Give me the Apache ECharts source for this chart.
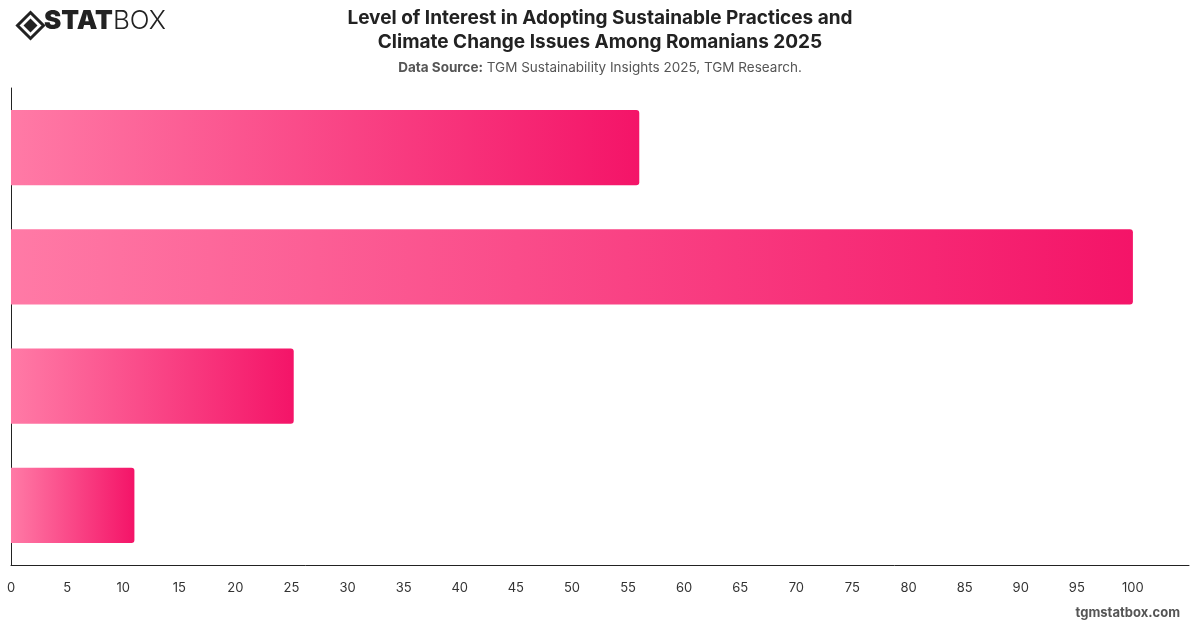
<html>

<head>
    <meta charset="utf-8">
    <script src="https://cdn.jsdelivr.net/npm/echarts@6/dist/echarts.min.js"></script>
    <style>
        body { margin: 0; background: #fff; }
    </style>
</head>

<body>
    <div id="main" style="width:1200px; height:628px"></div>
</body>
<script type="text/javascript">
    // data (top to bottom)
    var categories = ['Item 1', 'Item 2', 'Item 3', 'Item 4'];
    var values = [56, 100, 25.2, 11];

    var myChart = echarts.init(document.getElementById("main"));

    var barColor = new echarts.graphic.LinearGradient(0, 0, 1, 0, [
        { offset: 0, color: '#ff7aa6' },
        { offset: 1, color: '#f41468' }
    ]);

    var option = {
        animation: false,
        textStyle: { fontFamily: 'Inter, "Noto Sans", sans-serif' },
        title: {
            text: 'Level of Interest in Adopting Sustainable Practices and\nClimate Change Issues Among Romanians 2025',
            subtext: '{b|Data Source:} TGM Sustainability Insights 2025, TGM Research.',
            left: 'center',
            top: 1,
            itemGap: 7,
            textStyle: {
                fontSize: 19,
                fontWeight: 'bold',
                color: '#222',
                lineHeight: 24
            },
            subtextStyle: {
                fontSize: 13.5,
                color: '#555',
                rich: {
                    b: { fontSize: 13.5, fontWeight: 'bold', color: '#555' }
                }
            }
        },
        grid: {
            left: 11,
            right: 11,
            top: 88,
            bottom: 63,
            containLabel: false
        },
        xAxis: {
            type: 'value',
            min: 0,
            max: 105,
            interval: 5,
            axisLine: { show: true, lineStyle: { color: '#222', width: 1 } },
            axisTick: { show: false },
            splitLine: { show: false },
            axisLabel: {
                color: '#333',
                fontSize: 13,
                margin: 17,
                showMaxLabel: false
            }
        },
        yAxis: {
            type: 'category',
            data: categories,
            inverse: true,
            axisLine: { show: true, lineStyle: { color: '#222', width: 1 } },
            axisTick: { show: false },
            axisLabel: { show: false }
        },
        series: [{
            name: 'Interest',
            type: 'bar',
            data: values,
            barWidth: '63%',
            itemStyle: {
                color: barColor,
                borderRadius: [0, 3, 3, 0]
            }
        }],
        graphic: [
            {
                type: 'group',
                left: 15,
                top: 10,
                children: [
                    {
                        type: 'polygon',
                        shape: { points: [[13, 0], [26, 13], [13, 26], [0, 13]] },
                        style: { fill: 'none', stroke: '#222', lineWidth: 3 }
                    },
                    {
                        type: 'polygon',
                        shape: { points: [[13, 6], [20, 13], [13, 20], [6, 13]] },
                        style: { fill: '#222' }
                    }
                ]
            },
            {
                type: 'text',
                left: 44,
                top: 8,
                style: {
                    text: '{a|STAT}{b|BOX}',
                    rich: {
                        a: { fontSize: 26, fontWeight: 900, fontFamily: 'Inter, sans-serif', fill: '#222' },
                        b: { fontSize: 26, fontWeight: 300, fontFamily: 'Inter, sans-serif', fill: '#222' }
                    }
                }
            },
            {
                type: 'text',
                right: 20,
                top: 607,
                style: {
                    text: 'tgmstatbox.com',
                    fontSize: 13,
                    fontWeight: 'bold',
                    fontFamily: 'Inter, sans-serif',
                    fill: '#555'
                }
            }
        ]
    };

    myChart.setOption(option);
</script>

</html>
